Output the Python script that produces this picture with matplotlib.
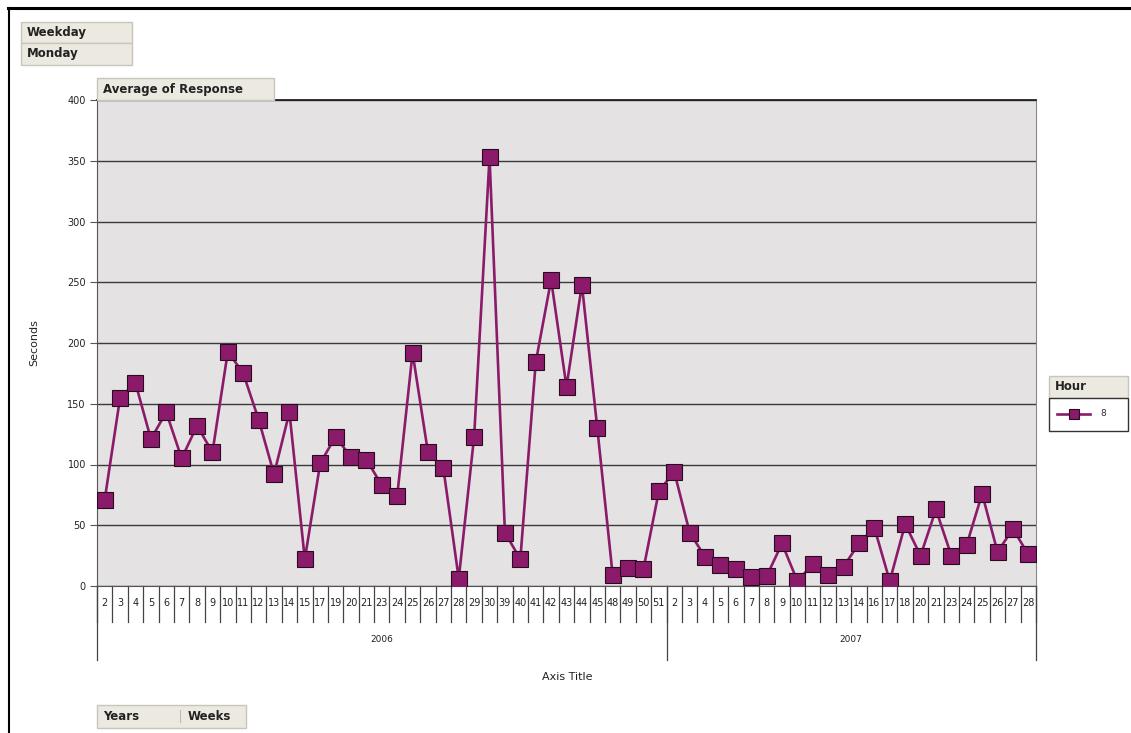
import matplotlib
matplotlib.use('Agg')
import matplotlib.pyplot as plt
from matplotlib.patches import Rectangle
from matplotlib.lines import Line2D

# weekly average response (seconds), Monday 8h
weeks_2006 = [2, 3, 4, 5, 6, 7, 8, 9, 10, 11, 12, 13, 14, 15, 17, 19, 20, 21, 23,
              24, 25, 26, 27, 28, 29, 30, 39, 40, 41, 42, 43, 44, 45, 48, 49, 50, 51]
resp_2006 = [71, 155, 167, 121, 143, 105, 132, 110, 193, 175, 137, 92, 143, 22,
             101, 123, 106, 104, 83, 74, 192, 110, 97, 6, 123, 353, 44, 22, 184,
             252, 164, 248, 130, 9, 15, 14, 78]
weeks_2007 = [2, 3, 4, 5, 6, 7, 8, 9, 10, 11, 12, 13, 14, 16, 17, 18, 20, 21, 23,
              24, 25, 26, 27, 28]
resp_2007 = [94, 44, 24, 17, 14, 7, 8, 35, 4, 18, 9, 16, 35, 48, 4, 51, 25, 63,
             25, 34, 76, 28, 47, 26]
years = ['2006', '2007']
y_ticks = [0, 50, 100, 150, 200, 250, 300, 350, 400]

week_labels = [str(w) for w in weeks_2006 + weeks_2007]
values = resp_2006 + resp_2007
n = len(values)
x = list(range(n))

W, H = 1131, 733
fig = plt.figure(figsize=(W / 100, H / 100), dpi=100)
fig.patch.set_facecolor('white')


def box(x0, y0, x1, y1):
    return [x0 / W, 1 - y1 / H, (x1 - x0) / W, (y1 - y0) / H]


def fx(px):
    return px / W


def fy(py):
    return 1 - py / H


# window frame
fig.add_artist(Line2D([fx(8), 1], [fy(8), fy(8)], color='black', lw=2.2))
fig.add_artist(Line2D([fx(9), fx(9)], [fy(8), 0], color='black', lw=1.5))

ax = fig.add_axes(box(97, 100, 1036, 586))
ax.set_facecolor('#e4e2e2')
ax.plot(x, values, color='#8b1a6b', lw=1.9, marker='s', markersize=12,
        markerfacecolor='#8b1a6b', markeredgecolor='#2a0a20', markeredgewidth=0.8,
        zorder=3)
ax.set_xlim(-0.5, n - 0.5)
ax.set_ylim(0, 400)
ax.set_yticks(y_ticks)
ax.set_yticklabels([str(v) for v in y_ticks], fontsize=7, color='#222222')
ax.tick_params(axis='y', length=5, width=0.8, color='#555555', pad=3)
ax.yaxis.grid(True, color='#3a3a3a', lw=1.0)
ax.set_axisbelow(True)
ax.set_xticks([])
for s in ['left', 'bottom']:
    ax.spines[s].set_color('#555555')
ax.spines['top'].set_color('#222222')
ax.spines['top'].set_linewidth(1.3)
ax.spines['right'].set_color('#888888')
ax.set_ylabel('Seconds', fontsize=8, color='#222222')
ax.yaxis.set_label_coords(-0.062, 0.5)

# category cells under the axis
trans = ax.get_xaxis_transform()


def ay(py):
    return (586 - py) / 486.0


for i in range(n + 1):
    ax.plot([i - 0.5, i - 0.5], [0, ay(622)], transform=trans, color='#444444',
            lw=0.9, clip_on=False)
for i, lab in enumerate(week_labels):
    ax.text(i, ay(603), lab, transform=trans, ha='center', va='center',
            fontsize=7, color='#222222')

n06 = len(weeks_2006)
for b in [-0.5, n06 - 0.5, n - 0.5]:
    ax.plot([b, b], [0, ay(660)], transform=trans, color='#444444', lw=0.9,
            clip_on=False)
ax.text((n06 - 1) / 2, ay(640), years[0], transform=trans, ha='center',
        va='center', fontsize=6.5, color='#222222')
ax.text(n06 + (n - n06 - 1) / 2, ay(640), years[1], transform=trans,
        ha='center', va='center', fontsize=6.5, color='#222222')

fig.text(fx(567), fy(677), 'Axis Title', ha='center', va='center', fontsize=8,
         color='#222222')


# field buttons
def button(x0, y0, x1, y1, label):
    fig.add_artist(Rectangle((fx(x0), fy(y1)), fx(x1) - fx(x0), fy(y0) - fy(y1),
                             transform=fig.transFigure, facecolor='#eceae0',
                             edgecolor='#c8c6bc', lw=1.0))
    fig.text(fx(x0 + 6), fy((y0 + y1) / 2), label, ha='left', va='center',
             fontsize=8.5, fontweight='bold', color='#222222')


button(21, 22, 132, 43, 'Weekday')
button(21, 43, 132, 65, 'Monday')
button(97, 78, 274, 100, 'Average of Response')
button(97, 705, 246, 728, 'Years')
fig.text(fx(188), fy(716.5), 'Weeks', ha='left', va='center', fontsize=8.5,
         fontweight='bold', color='#222222')
fig.add_artist(Line2D([fx(180), fx(180)], [fy(710), fy(722)], color='#bbbbbb',
                      lw=0.8))

# legend
button(1049, 376, 1128, 398, 'Hour')
fig.add_artist(Rectangle((fx(1049), fy(431)), fx(1128) - fx(1049),
                         fy(398) - fy(431), transform=fig.transFigure,
                         facecolor='white', edgecolor='#333333', lw=1.0))
fig.add_artist(Line2D([fx(1057), fx(1090)], [fy(414), fy(414)], color='#8b1a6b',
                      lw=1.9))
fig.add_artist(Line2D([fx(1074)], [fy(414)], color='#8b1a6b', marker='s',
                      markersize=7.5, markerfacecolor='#8b1a6b',
                      markeredgecolor='#2a0a20', markeredgewidth=0.8))
fig.text(fx(1100), fy(414), '8', ha='left', va='center', fontsize=6.5,
         color='#333333')

fig.savefig('out.png', dpi=100)
